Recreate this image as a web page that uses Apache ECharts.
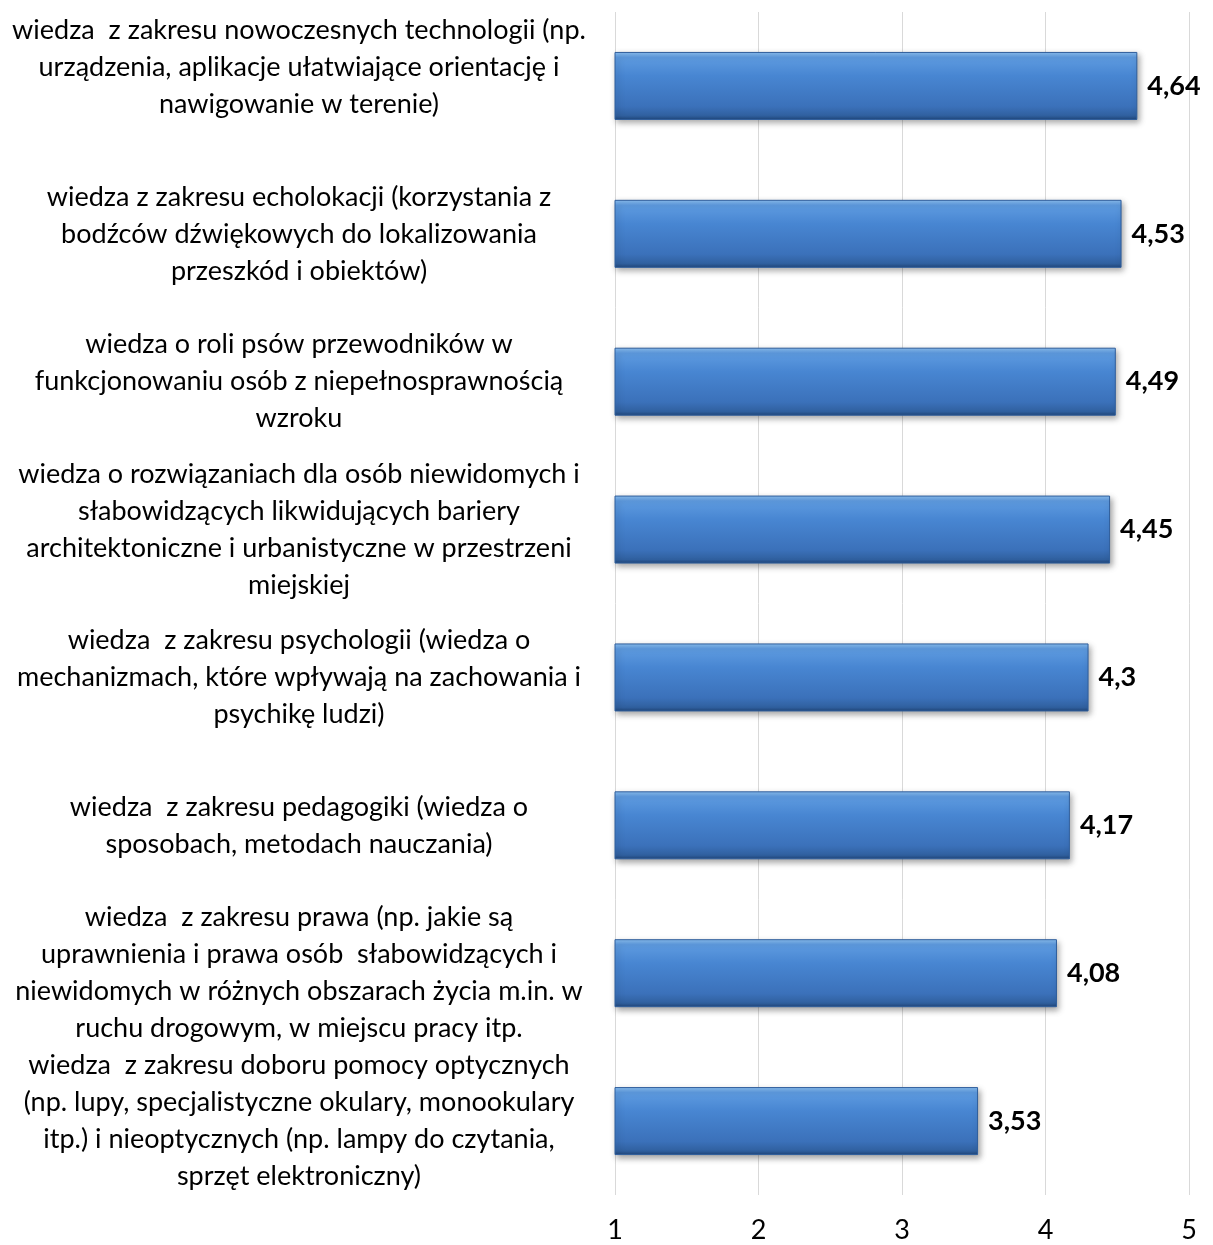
<!DOCTYPE html>
<html>
<head>
<meta charset="utf-8">
<script src="https://cdn.jsdelivr.net/npm/echarts@6/dist/echarts.min.js"></script>
<style>html,body{margin:0;padding:0;background:#fff}#c{width:1213px;height:1245px}</style>
</head>
<body>
<div id="c"></div>
<script>
var categories = [
  "wiedza  z zakresu nowoczesnych technologii (np.\nurządzenia, aplikacje ułatwiające orientację i\nnawigowanie w terenie)\n",
  "wiedza z zakresu echolokacji (korzystania z\nbodźców dźwiękowych do lokalizowania\nprzeszkód i obiektów)",
  "wiedza o roli psów przewodników w\nfunkcjonowaniu osób z niepełnosprawnością\nwzroku",
  "wiedza o rozwiązaniach dla osób niewidomych i\nsłabowidzących likwidujących bariery\narchitektoniczne i urbanistyczne w przestrzeni\nmiejskiej",
  "wiedza  z zakresu psychologii (wiedza o\nmechanizmach, które wpływają na zachowania i\npsychikę ludzi)",
  "wiedza  z zakresu pedagogiki (wiedza o\nsposobach, metodach nauczania)",
  "wiedza  z zakresu prawa (np. jakie są\nuprawnienia i prawa osób  słabowidzących i\nniewidomych w różnych obszarach życia m.in. w\nruchu drogowym, w miejscu pracy itp.",
  "wiedza  z zakresu doboru pomocy optycznych\n(np. lupy, specjalistyczne okulary, monookulary\nitp.) i nieoptycznych (np. lampy do czytania,\nsprzęt elektroniczny)"
];
var values = [4.64, 4.53, 4.49, 4.45, 4.3, 4.17, 4.08, 3.53];
var axisMin = 1, axisMax = 5, axisStep = 1;

var chart = echarts.init(document.getElementById('c'), null, {renderer: 'canvas'});
chart.setOption({
  animation: false,
  backgroundColor: '#ffffff',
  textStyle: {fontFamily: 'Lato'},
  grid: {left: 615, right: 24, top: 12, bottom: 50, containLabel: false},
  xAxis: {
    type: 'value', min: axisMin, max: axisMax, interval: axisStep,
    axisLine: {show: false}, axisTick: {show: false},
    splitLine: {show: true, lineStyle: {color: '#d9d9d9', width: 1}},
    axisLabel: {color: '#000', fontSize: 27, fontFamily: 'Lato', margin: 22}
  },
  yAxis: {
    type: 'category', data: categories, inverse: true,
    axisLine: {show: false}, axisTick: {show: false}, splitLine: {show: false},
    axisLabel: {color: '#000', fontSize: 27, fontFamily: 'Lato', lineHeight: 37, align: 'center', margin: 316, interval: 0}
  },
  series: [{
    type: 'bar', data: values, barWidth: 68,
    itemStyle: {
      color: new echarts.graphic.LinearGradient(0, 0, 0, 1, [
        {offset: 0, color: '#8cc0f2'},
        {offset: 0.08, color: '#5e9be0'},
        {offset: 0.35, color: '#4886d2'},
        {offset: 0.8, color: '#3b71ba'},
        {offset: 0.94, color: '#30609f'},
        {offset: 1, color: '#1f4578'}
      ]),
      borderColor: '#2f5e9c', borderWidth: 1,
      shadowColor: 'rgba(0,0,0,0.35)', shadowBlur: 6, shadowOffsetX: 2, shadowOffsetY: 3
    },
    label: {
      show: true, position: 'right', distance: 10, color: '#000', fontSize: 27, fontWeight: 'bold', fontFamily: 'Lato',
      formatter: function (p) { return String(p.value).replace('.', ','); }
    }
  }]
});
</script>
</body>
</html>
